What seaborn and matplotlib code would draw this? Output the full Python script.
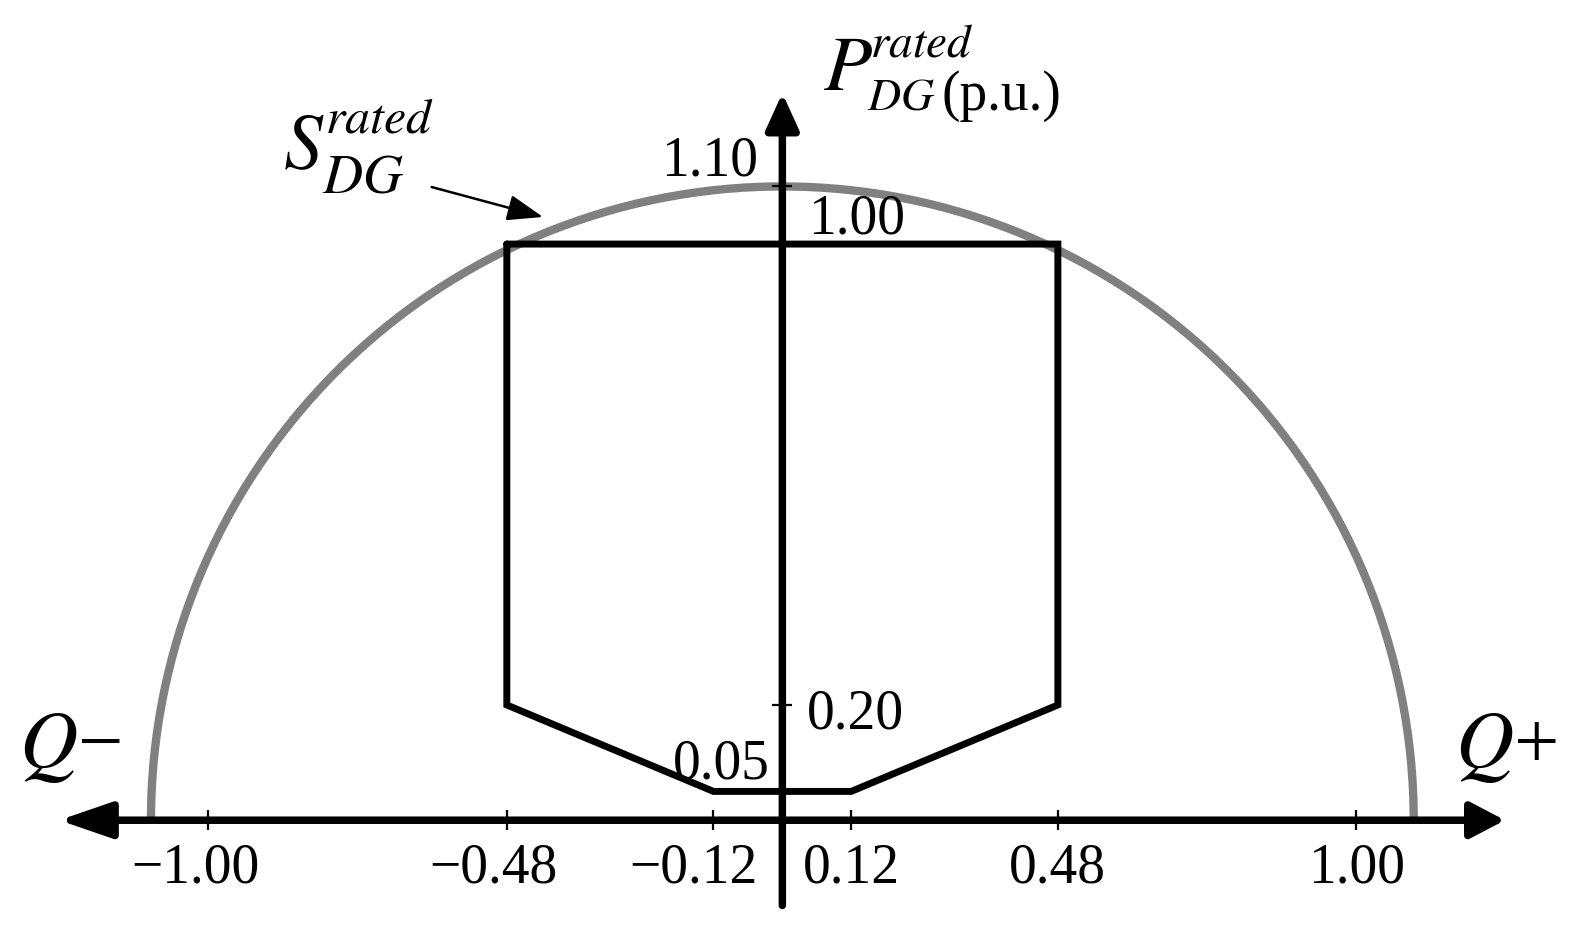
import matplotlib
matplotlib.use("Agg")
import matplotlib.pyplot as plt
from matplotlib.patches import Arc
import seaborn as sns
import pandas as pd

# capability curve data (p.u.)
S_RATED = 1.10
poly_q = [-0.48, 0.48, 0.48, 0.12, -0.12, -0.48]
poly_p = [1.00, 1.00, 0.20, 0.05, 0.05, 0.20]

x_ticks = [-1.00, -0.48, -0.12, 0.12, 0.48, 1.00]
x_labels = ["\u22121.00", "\u22120.48", "\u22120.12", "0.12", "0.48", "1.00"]
y_ticks = [0.20, 1.00, 1.10]

sns.set_theme(style="white")
plt.rcParams["font.family"] = ["Liberation Serif", "DejaVu Serif"]
plt.rcParams["mathtext.fontset"] = "stix"
plt.rcParams["text.color"] = "black"

fig = plt.figure(figsize=(15.71, 9.32), dpi=100)
ax = fig.add_axes([0, 0, 1, 1])
ax.set_xlim(-1.363, 1.374)
ax.set_ylim(-0.194, 1.4236)
ax.axis("off")

# rated apparent power half circle
ax.add_patch(Arc((0, 0), 2 * S_RATED, 2 * S_RATED, theta1=0, theta2=180,
                 color="#808080", lw=6, zorder=1))

# operating region polygon (closed)
df = pd.DataFrame({"Q": poly_q + poly_q[:1], "P": poly_p + poly_p[:1]})
sns.lineplot(data=df, x="Q", y="P", sort=False, estimator=None,
             color="black", lw=5, ax=ax, zorder=3)
ax.lines[-1].set_solid_joinstyle("miter")

# axes with arrows
def axis_arrow(tip, start, hl, hw):
    ax.annotate("", xy=tip, xytext=start,
                arrowprops=dict(arrowstyle=f"-|>,head_length={hl},head_width={hw}",
                                lw=5.4, color="black", mutation_scale=20,
                                shrinkA=0, shrinkB=0), zorder=4)

axis_arrow((1.259, 0), (0, 0), 1.05, 0.55)
axis_arrow((-1.26, 0), (0, 0), 1.6, 0.55)
axis_arrow((0, 1.262), (0, -0.148), 1.1, 0.5)

# tick marks
ax.plot(x_ticks, [0] * len(x_ticks), ls="none", marker="|", ms=15,
        mew=1.6, color="black", zorder=5)
ax.plot([0] * len(y_ticks), y_ticks, ls="none", marker="_", ms=15,
        mew=1.6, color="black", zorder=5)

# tick labels
fs = 40
for x, lab in zip(x_ticks, x_labels):
    dx = -0.023 if x < 0 else 0
    if x == -0.12:
        dx = -0.035
    ax.text(x + dx, -0.1076, lab, ha="center", va="baseline", fontsize=fs)
ax.text(0.0427, 0.160, "0.20", ha="left", va="baseline", fontsize=fs)
ax.text(0.0444, 1.019, "1.00", ha="left", va="baseline", fontsize=fs)
ax.text(-0.0427, 1.1198, "1.10", ha="right", va="baseline", fontsize=fs)
ax.text(-0.022, 0.0729, "0.05", ha="right", va="baseline", fontsize=fs)

# axis names
ax.text(-1.33, 0.09, r"$Q$" + "\u2212", ha="left", va="baseline", fontsize=58)
ax.text(1.172, 0.09, r"$Q$+", ha="left", va="baseline", fontsize=58)

ax.text(0.0706, 1.267, r"$P$", ha="left", va="baseline", fontsize=57)
ax.text(0.152, 1.325, r"$rated$", ha="left", va="baseline", fontsize=34)
ax.text(0.147, 1.233, r"$DG$", ha="left", va="baseline", fontsize=33)
ax.text(0.278, 1.233, "(p.u.)", ha="left", va="baseline", fontsize=40)

ax.text(-0.870, 1.132, r"$S$", ha="left", va="baseline", fontsize=56)
ax.text(-0.797, 1.193, r"$rated$", ha="left", va="baseline", fontsize=36)
ax.text(-0.802, 1.089, r"$DG$", ha="left", va="baseline", fontsize=40)

ax.annotate("", xy=(-0.417, 1.047), xytext=(-0.611, 1.099),
            arrowprops=dict(arrowstyle="-|>,head_length=1.1,head_width=0.4",
                            lw=1.8, color="black", mutation_scale=20,
                            shrinkA=0, shrinkB=0))

fig.savefig("out.png", dpi=100)
